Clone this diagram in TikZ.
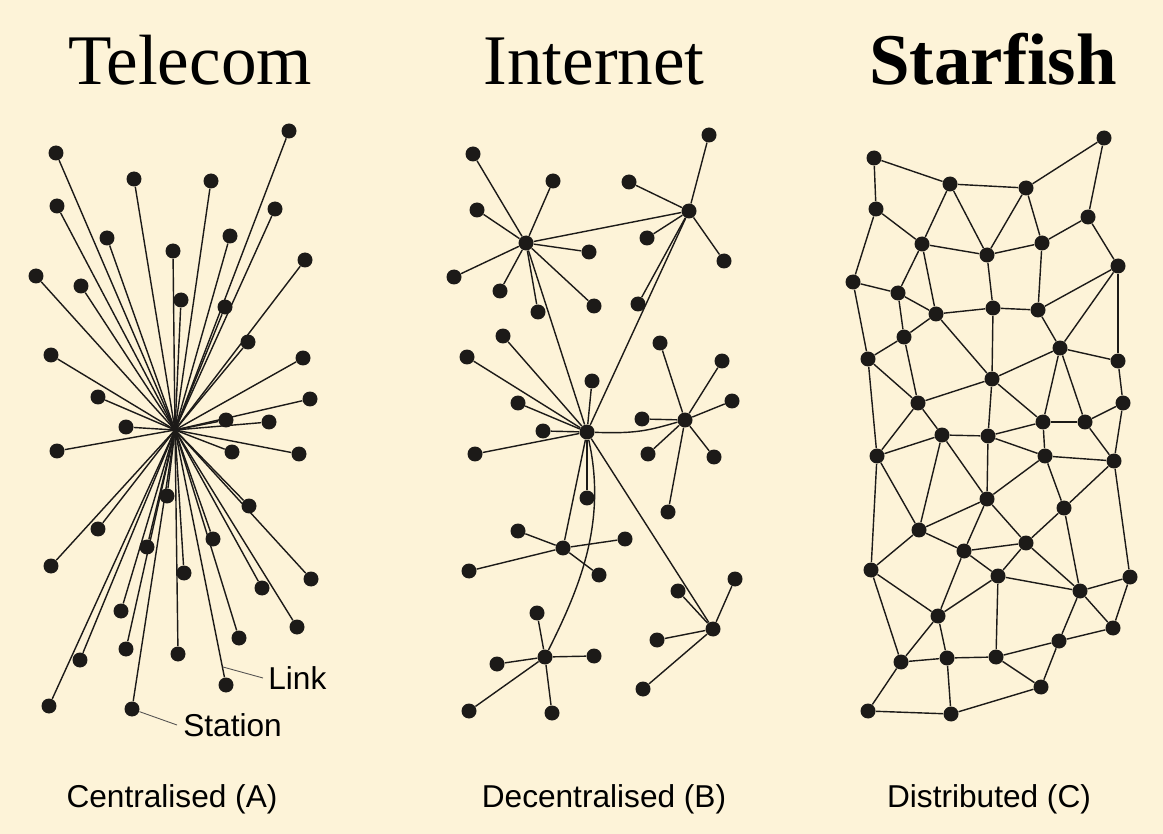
\documentclass[tikz,border=0pt]{standalone}
\usepackage{fontspec}
\setmainfont{Liberation Serif}
\setsansfont{Liberation Sans}
\usetikzlibrary{calc}
\definecolor{paper}{HTML}{FDF3D8}
\definecolor{ink}{HTML}{1C1A18}

\begin{document}
\begin{tikzpicture}[
    x=0.02cm, y=-0.02cm,
    every node/.style={font=\sffamily\fontsize{18}{20}\selectfont},
    station/.style={circle, fill=ink, inner sep=0pt, minimum size=0.3cm},
    link/.style={draw=ink, line width=0.8pt},
    leader/.style={draw=ink!75, line width=0.5pt},
    heading/.style={anchor=base, font=\rmfamily\fontsize{40.5}{44}\selectfont},
    caption/.style={anchor=base},
    tag/.style={anchor=west, inner sep=0pt}
]

% Background
\fill[paper] (0,0) rectangle (1163,834);
\useasboundingbox (0,0) rectangle (1163,834);

% Headings
\node[heading] (hTele) at (190,85) {Telecom};
\node[heading] (hNet) at (594,85) {Internet};
\node[heading, font=\rmfamily\bfseries\fontsize{41.5}{44}\selectfont] (hStar) at (993,85) {Starfish};

% Captions
\node[caption] (cA) at (172,807) {Centralised (A)};
\node[caption] (cB) at (604,807) {Decentralised (B)};
\node[caption] (cC) at (989,807) {Distributed (C)};

% Centralised - every station on one hub
\coordinate (thub) at (175,430);
\foreach \name/\x/\y in {t1/56/153, t2/289/131, t3/134/179, t4/211/181, t5/57/206,
    t6/275/209, t7/107/238, t8/230/236, t9/173/251, t10/36/276, t11/81/286,
    t12/305/260, t13/181/300, t14/225/307, t15/248/342, t16/51/355, t17/303/358,
    t18/98/397, t19/310/399, t20/126/427, t21/226/420, t22/269/422, t23/57/451,
    t24/232/452, t25/299/454, t26/167/496, t27/249/506, t28/98/529, t29/147/547,
    t30/213/539, t31/51/566, t32/184/573, t33/311/579, t34/262/588, t35/121/611,
    t36/297/627, t37/80/660, t38/126/649, t39/178/654, t40/239/638, t41/226/685,
    t42/49/706, t43/132/709} {
    \node[station] (\name) at (\x,\y) {};
    \draw[link] (thub) -- (\name);
}

% Link / Station labels
\coordinate (linkpt) at (223,667);
\node[tag] (linklbl) at (268,678) {Link};
\node[tag] (stationlbl) at (183,725) {Station};
\draw[leader] (linkpt) -- ([xshift=-0.1cm]linklbl.west);
\draw[leader] (t43) -- ([xshift=-0.12cm]stationlbl.west);

% Decentralised - hubs
\foreach \name/\x/\y in {iA/526/243, iB/689/211, iC/587/432, iG/685/420,
    iD/563/548, iE/545/657, iF/713/629} {
    \node[station] (\name) at (\x,\y) {};
}
% Decentralised - leaves
\foreach \hub/\name/\x/\y in {iA/a1/473/154, iA/a2/553/181, iA/a3/477/210,
    iA/a4/589/252, iA/a5/454/277, iA/a6/500/291, iA/a7/538/312, iA/a8/594/306,
    iB/b1/709/135, iB/b2/629/182, iB/b3/647/238, iB/b4/724/261, iB/b5/638/304,
    iC/c1/503/336, iC/c2/467/357, iC/c3/592/381, iC/c4/518/403, iC/c5/543/431,
    iC/c6/475/454, iC/c7/587/498,
    iG/g1/660/343, iG/g2/722/361, iG/g3/732/401, iG/g4/642/419, iG/g5/648/454,
    iG/g6/714/457, iG/g7/668/512,
    iD/d1/518/531, iD/d2/625/539, iD/d3/469/571, iD/d4/599/575,
    iE/e1/537/613, iE/e2/497/664, iE/e3/594/656, iE/e4/469/711, iE/e5/552/713,
    iF/f1/735/579, iF/f2/678/591, iF/f3/657/640, iF/f4/643/689} {
    \node[station] (\name) at (\x,\y) {};
    \draw[link] (\hub) -- (\name);
}
% Decentralised - hub to hub
\foreach \a/\b in {iA/iB, iA/iC, iB/iC, iC/iD, iC/iF} {
    \draw[link] (\a) -- (\b);
}
\draw[link] (iC) .. controls +(20,90) and +(35,-70) .. (iE);
\draw[link] (iC) .. controls +(50,2) and +(-35,10) .. (iG);

% Distributed - mesh
\foreach \name/\x/\y in {n1/874/158, n2/1104/138, n3/950/184, n4/1026/188,
    n5/876/209, n6/1088/217, n7/922/244, n8/987/255, n9/1042/243, n10/1118/266,
    n11/853/282, n12/898/293, n13/936/314, n14/993/308, n15/1038/310,
    n16/904/337, n17/868/359, n18/1060/348, n19/1118/361, n20/992/379,
    n21/918/403, n22/1123/403, n23/1043/422, n24/1085/422, n25/942/435,
    n26/988/436, n27/877/456, n28/1045/456, n29/1114/461, n30/987/499,
    n31/1064/508, n32/919/530, n33/964/551, n34/1026/543, n35/871/570,
    n36/998/576, n37/1130/577, n38/1080/591, n39/938/616, n40/1113/628,
    n41/1059/641, n42/901/662, n43/947/658, n44/996/657, n45/1041/687,
    n46/868/711, n47/951/714} {
    \node[station] (\name) at (\x,\y) {};
}
\foreach \a/\b in {n1/n3, n1/n5, n3/n4, n4/n2, n2/n6, n5/n7, n3/n7, n3/n8,
    n4/n8, n4/n9, n7/n8, n8/n9, n9/n6, n6/n10, n5/n11, n11/n12, n7/n12,
    n7/n13, n12/n13, n8/n14, n13/n14, n14/n15, n9/n15, n15/n10, n10/n18,
    n10/n19, n15/n18, n12/n16, n16/n13, n16/n17, n11/n17, n16/n21, n17/n21,
    n13/n20, n14/n20, n18/n20, n18/n19, n20/n21, n20/n26, n20/n23, n18/n23,
    n18/n24, n23/n24, n24/n22, n19/n22, n21/n25, n21/n27, n17/n27, n25/n26,
    n26/n23, n22/n29, n24/n29, n23/n28, n27/n25, n25/n32, n25/n30, n26/n30,
    n26/n28, n28/n29, n28/n30, n28/n31, n29/n31, n29/n37, n27/n32, n27/n35,
    n30/n32, n30/n33, n30/n34, n31/n34, n31/n38, n32/n33, n32/n35, n33/n34,
    n33/n36, n34/n36, n34/n38, n33/n39, n36/n39, n36/n44, n36/n38, n38/n37,
    n38/n40, n37/n40, n38/n41, n35/n39, n35/n42, n39/n42, n39/n43, n42/n43,
    n43/n44, n44/n41, n41/n40, n41/n45, n44/n45, n42/n46, n43/n47, n46/n47,
    n47/n45} {
    \draw[link] (\a) -- (\b);
}

\end{tikzpicture}
\end{document}
